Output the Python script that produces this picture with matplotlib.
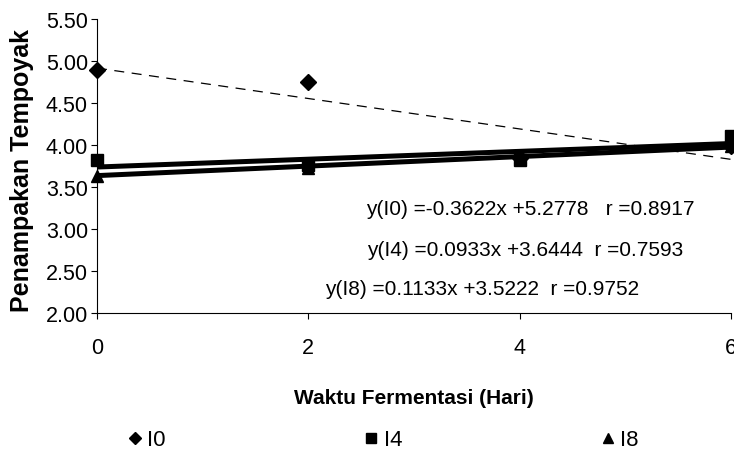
import numpy as np
import matplotlib
matplotlib.use("Agg")
import matplotlib.pyplot as plt

plt.rcParams['font.family'] = ['Liberation Sans', 'DejaVu Sans']

# fermentation days
days = [0, 2, 4, 6]

# observed scores per treatment
i0 = [4.89, 4.75, 3.85, 3.99]
i4 = [3.82, 3.76, 3.82, 4.11]
i8 = [3.63, 3.73, 3.86, 3.99]

# trendline coefficients as printed on the chart (x = sample index 1..4)
slopes = [-0.3622, 0.0933, 0.1133]
intercepts = [5.2778, 3.6444, 3.5222]
r_values = [0.8917, 0.7593, 0.9752]
labels = ['I0', 'I4', 'I8']
markers = ['D', 's', '^']

W, H = 734, 456
fig = plt.figure(figsize=(W / 100, H / 100), dpi=100)
ax = fig.add_axes([97 / W, 1 - 314 / H, (731 - 97) / W, (314 - 20) / H])

x_line = np.array([0, 6])
idx_line = x_line / 2 + 1
styles = [dict(color='black', lw=0.9, ls=(0, (8, 6))),
          dict(color='black', lw=3.6, ls='-'),
          dict(color='black', lw=3.6, ls='-')]

handles = []
for vals, m, lab, a, b, st in zip([i0, i4, i8], markers, labels, slopes, intercepts, styles):
    ax.plot(x_line, a * idx_line + b, zorder=2, **st)
    ms = 8 if m == 'D' else 9
    h, = ax.plot(days, vals, ls='none', marker=m, ms=ms, color='black', label=lab, zorder=3,
                 clip_on=False)
    handles.append(h)

ax.set_xlim(0, 6)
ax.set_ylim(2.0, 5.5)
ax.set_xticks([0, 2, 4, 6])
yt = np.arange(2.0, 5.51, 0.5)
ax.set_yticks(yt)
ax.set_yticklabels([f"{v:.2f}" for v in yt])
ax.spines['top'].set_visible(False)
ax.spines['right'].set_visible(False)
ax.tick_params(axis='both', direction='out', length=4.5, width=0.8, labelsize=15.5)
ax.tick_params(axis='x', pad=13)
ax.tick_params(axis='y', pad=2)

fig.text(22 / W, 1 - 171 / H, 'Penampakan Tempoyak', fontsize=18, fontweight='bold',
         rotation=90, ha='center', va='center')
fig.text(414 / W, 1 - 398 / H, 'Waktu Fermentasi (Hari)', fontsize=15, fontweight='bold',
         ha='center', va='center')

eq_pos = [(366, 210), (367, 250), (325, 290)]
gaps = ['   ', '  ', '  ']
for (px, py), lab, a, b, r, g in zip(eq_pos, labels, slopes, intercepts, r_values, gaps):
    txt = f"y({lab}) ={a:.4f}x +{b:.4f}{g}r ={r:.4f}"
    fig.text(px / W, 1 - py / H, txt, fontsize=15, ha='left', va='center')

fig.legend(handles=handles, labels=labels, loc='center', ncol=3,
           bbox_to_anchor=(384 / W, 1 - 441 / H), frameon=False,
           fontsize=16, markerscale=0.75, handlelength=0.5, handletextpad=0.3,
           columnspacing=9.0)

fig.savefig('out.png', dpi=100)
